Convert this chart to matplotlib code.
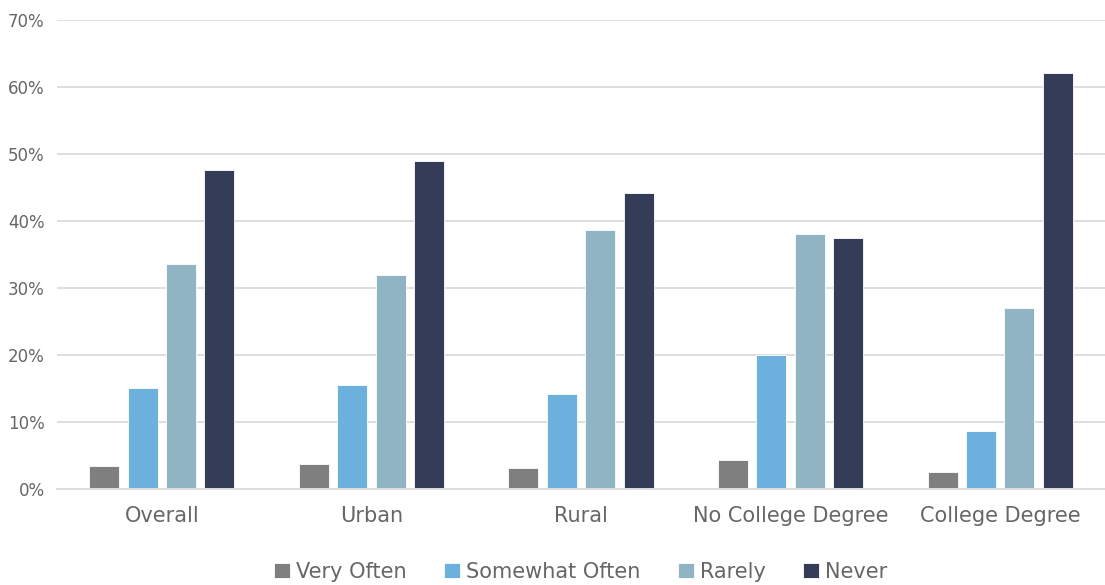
import numpy as np
import matplotlib
matplotlib.use("Agg")
import matplotlib.pyplot as plt
from matplotlib.ticker import PercentFormatter

plt.rcParams['font.family'] = ['DejaVu Sans']

# survey groups and answer shares (%)
groups = ["Overall", "Urban", "Rural", "No College Degree", "College Degree"]
answers = ["Very Often", "Somewhat Often", "Rarely", "Never"]
very_often = [3.4, 3.7, 3.1, 4.3, 2.6]
somewhat_often = [15.0, 15.5, 14.2, 20.0, 8.6]
rarely = [33.6, 31.9, 38.6, 38.1, 27.0]
never = [47.6, 48.9, 44.2, 37.5, 62.0]
colors = ["#7f7f7f", "#6cb0de", "#91b4c4", "#353c58"]

text_col = "#666666"
grid_col = "#dedede"

fig = plt.figure(figsize=(11.05, 5.85), dpi=100)
ax = fig.add_axes([0.0516, 0.164, 0.9484, 0.8026])

x = np.arange(len(groups))
width = 0.143
step = 0.183
series = [very_often, somewhat_often, rarely, never]
for i, (vals, name, c) in enumerate(zip(series, answers, colors)):
    ax.bar(x + (i - 1.5) * step, vals, width, color=c, label=name,
           edgecolor="white", linewidth=0.6, zorder=3)

ax.set_xlim(-0.5, len(groups) - 0.5)
ax.set_ylim(0, 70)
ax.set_yticks(np.arange(0, 71, 10))
ax.yaxis.set_major_formatter(PercentFormatter(decimals=0))
ax.set_xticks(x)
ax.set_xticklabels(groups)

ax.grid(axis="y", color=grid_col, linewidth=1.4, zorder=0)
for s in ["top", "right", "left"]:
    ax.spines[s].set_visible(False)
ax.spines["bottom"].set_color(grid_col)
ax.spines["bottom"].set_linewidth(1.4)
ax.spines["bottom"].set_zorder(4)

ax.tick_params(axis="y", length=0, labelsize=12, labelcolor=text_col, pad=9)
ax.tick_params(axis="x", length=0, labelsize=15, labelcolor=text_col, pad=12)

leg = ax.legend(loc="upper center", bbox_to_anchor=(0.5, -0.115), ncol=4,
                frameon=False, fontsize=15, handlelength=0.75, handleheight=0.75,
                handletextpad=0.3, columnspacing=1.8, labelcolor=text_col)

fig.savefig("out.png", dpi=100)
